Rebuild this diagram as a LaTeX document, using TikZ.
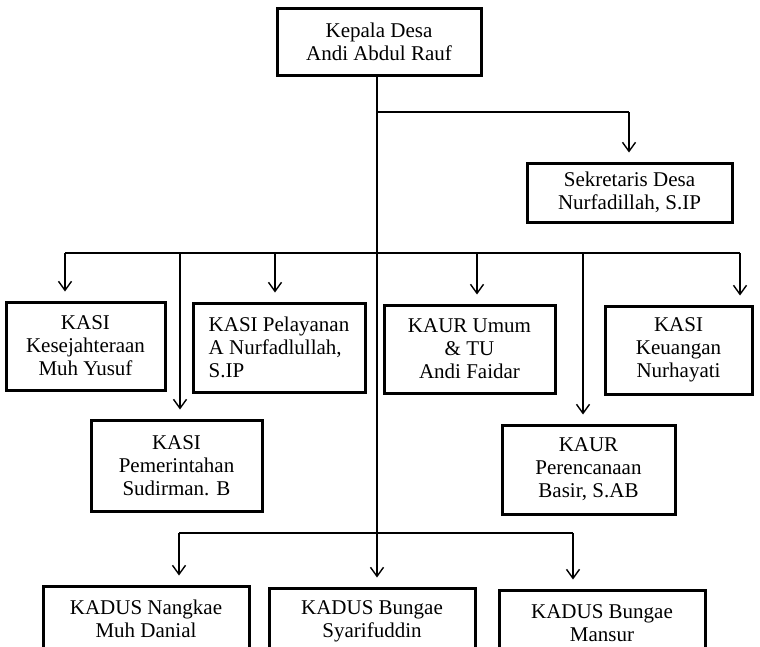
\documentclass[tikz,border=0pt]{standalone}
\usepackage{fontspec}
\setmainfont{Liberation Serif}
\usetikzlibrary{arrows.meta}
\begin{document}
\begin{tikzpicture}[x=1pt,y=-1pt,
  box/.style={draw=black,line width=3pt,inner sep=0pt,align=center,
    font=\fontsize{21}{23}\selectfont},
  conn/.style={line width=1.4pt},
  arr/.style={line width=1.4pt,-{Straight Barb[length=9pt,width=13pt,line width=1.4pt]},shorten >=9pt}]
\useasboundingbox (0,0) rectangle (760,646);
\fill[white] (0,0) rectangle (760,646);
\begin{scope}
\clip (0,0) rectangle (760,646);
% boxes
\node[box,minimum width=204pt,minimum height=67pt] (kades) at (379,41.5) {Kepala Desa\\Andi Abdul Rauf};
\node[box,minimum width=205pt,minimum height=59pt] (sekdes) at (629.5,192.5) {Sekretaris Desa\\Nurfadillah, S.IP};
\node[box,minimum width=159pt,minimum height=88pt] (kesej) at (85.5,346) {KASI\\Kesejahteraan\\Muh Yusuf};
\node[box,minimum width=172pt,minimum height=89pt,align=left] (pelay) at (279,347.5) {KASI Pelayanan\\A Nurfadlullah,\\S.IP};
\node[box,minimum width=171pt,minimum height=88pt] (umum) at (469.5,349) {KAUR Umum\\\& TU\\Andi Faidar};
\node[box,minimum width=147pt,minimum height=88pt] (keu) at (678.5,350) {KASI\\Keuangan\\Nurhayati};
\node[box,minimum width=171pt,minimum height=91pt] (pemer) at (176.5,465.5) {KASI\\Pemerintahan\\Sudirman. B};
\node[box,minimum width=173pt,minimum height=89pt] (peren) at (588.5,469.5) {KAUR\\Perencanaan\\Basir, S.AB};
\node[box,minimum width=206pt,minimum height=66pt] (kd1) at (146,619) {KADUS Nangkae\\Muh Danial};
\node[box,minimum width=206pt,minimum height=66pt] (kd2) at (372,621) {KADUS Bungae\\Syarifuddin};
\node[box,minimum width=206pt,minimum height=66pt] (kd3) at (602,623) {KADUS Bungae\\Mansur};
% connectors
\coordinate (trunk) at (377,75);
\coordinate (js) at (377,112);
\coordinate (jse) at (629,112);
\coordinate (hl) at (65,253);
\coordinate (hr) at (740,253);
\coordinate (a1) at (65,253);
\coordinate (a2) at (180,253);
\coordinate (a3) at (275,253);
\coordinate (a4) at (477,253);
\coordinate (a5) at (583,253);
\coordinate (a6) at (740,253);
\coordinate (b1) at (179,533);
\coordinate (b2) at (377,533);
\coordinate (b3) at (573,533);
\draw[arr] (trunk) -- (trunk |- kd2.north);
\draw[conn] (js) -- (jse);
\draw[arr] (jse) -- (jse |- sekdes.north);
\draw[conn] (hl) -- (hr);
\draw[arr] (a1) -- (a1 |- kesej.north);
\draw[arr] (a2) -- (a2 |- pemer.north);
\draw[arr] (a3) -- (a3 |- pelay.north);
\draw[arr] (a4) -- (a4 |- umum.north);
\draw[arr] (a5) -- (a5 |- peren.north);
\draw[arr] (a6) -- (a6 |- keu.north);
\draw[conn] (b1) -- (b3);
\draw[arr] (b1) -- (b1 |- kd1.north);
\draw[arr] (b3) -- (b3 |- kd3.north);
\end{scope}
\end{tikzpicture}
\end{document}
